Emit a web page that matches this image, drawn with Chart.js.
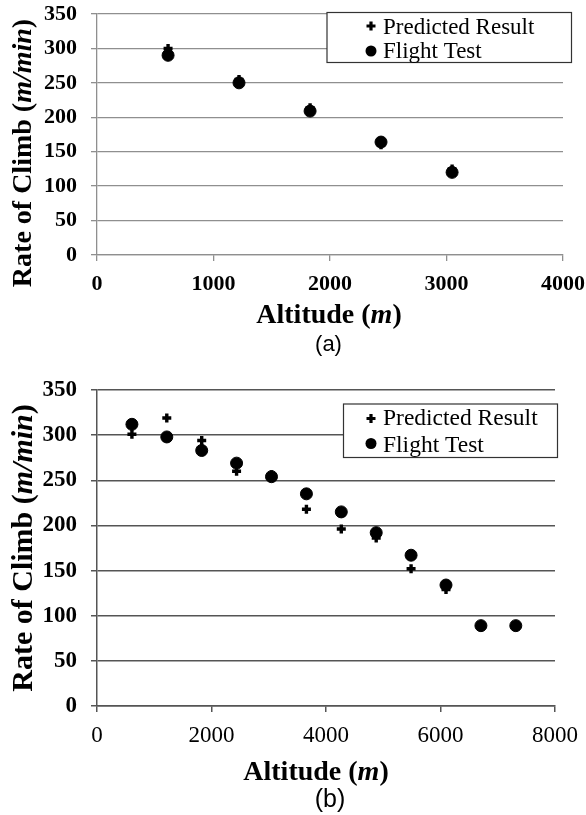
<!DOCTYPE html>
<html>
<head>
<meta charset="utf-8">
<script src="https://cdn.jsdelivr.net/npm/chart.js@4.4.1/dist/chart.umd.min.js"></script>
<style>
  html, body { margin: 0; padding: 0; background: #fff; }
  #wrap { position: relative; width: 586px; height: 815px; overflow: hidden; }
  canvas { position: absolute; left: 0; }
</style>
</head>
<body>
<div id="wrap">
  <canvas id="chart-a" width="586" height="370" style="top:0"></canvas>
  <canvas id="chart-b" width="586" height="445" style="top:370px"></canvas>
</div>
<script>
// (a) - altitude (m) vs rate of climb (m/min)
const altA = [610, 1219, 1829, 2438, 3048];
const predA = [300, 255, 214, 160, 125];
const flightA = [290, 250, 209, 164, 120];

// (b)
const altB = [610, 1219, 1829, 2438, 3048, 3658, 4267, 4877, 5486, 6096, 6706, 7315];
const predB = [301, 319, 294, 260, 256, 218, 196, 186, 152, 129, 88, 88];
const flightB = [312, 298, 283, 269, 254, 235, 215, 192, 167, 134, 89, 89];

const yTicks = [0, 50, 100, 150, 200, 250, 300, 350];
const xTicksA = [0, 1000, 2000, 3000, 4000];
const xTicksB = [0, 2000, 4000, 6000, 8000];

const legendLabels = ['Predicted Result', 'Flight Test'];
const SERIF = '"Liberation Serif", "Times New Roman", serif';
const SANS = '"Liberation Sans", Arial, sans-serif';

Chart.defaults.devicePixelRatio = 1;
Chart.defaults.animation = false;

const pts = (xs, ys) => xs.map((x, i) => ({x, y: ys[i]}));

// draw text made of pieces in different fonts, centred on x
function drawParts(ctx, parts, size, x, y) {
  let total = 0;
  parts.forEach(([t, style]) => {
    ctx.font = `${style} ${size}px ${SERIF}`;
    total += ctx.measureText(t).width;
  });
  let cx = x - total / 2;
  parts.forEach(([t, style]) => {
    ctx.font = `${style} ${size}px ${SERIF}`;
    ctx.fillText(t, cx, y);
    cx += ctx.measureText(t).width;
  });
}

const titlesPlugin = {
  id: 'figTitles',
  afterDraw(chart, args, o) {
    const ctx = chart.ctx;
    ctx.save();
    ctx.fillStyle = '#000';
    ctx.textAlign = 'left';
    ctx.textBaseline = 'alphabetic';
    drawParts(ctx, [['Altitude (', 'bold'], ['m', 'italic bold'], [')', 'bold']], o.xSize, o.xX, o.xY);
    ctx.save();
    ctx.translate(o.yX, o.yY);
    ctx.rotate(-Math.PI / 2);
    drawParts(ctx, [['Rate of Climb (', 'bold'], ['m/min', 'italic bold'], [')', 'bold']], o.ySize, 0, 0);
    ctx.restore();
    ctx.font = `${o.capSize}px ${SANS}`;
    ctx.textAlign = 'center';
    ctx.fillText(o.caption, o.capX, o.capY);
    ctx.restore();
  }
};

const boxLegendPlugin = {
  id: 'boxLegend',
  afterDraw(chart, args, o) {
    const ctx = chart.ctx;
    const [x1, y1, x2, y2] = o.box;
    ctx.save();
    ctx.fillStyle = '#fff';
    ctx.fillRect(x1, y1, x2 - x1, y2 - y1);
    ctx.strokeStyle = '#333';
    ctx.lineWidth = 1.2;
    ctx.strokeRect(x1, y1, x2 - x1, y2 - y1);
    ctx.fillStyle = '#000';
    ctx.strokeStyle = '#000';
    ctx.lineWidth = 3.2;
    Chart.helpers.drawPoint(ctx, {pointStyle: 'cross', radius: 4.5, borderWidth: 3.2}, o.markX, o.rows[0].my);
    ctx.lineWidth = 0;
    Chart.helpers.drawPoint(ctx, {pointStyle: 'circle', radius: 5.5, borderWidth: 0}, o.markX, o.rows[1].my);
    ctx.font = `${o.size}px ${SERIF}`;
    ctx.textAlign = 'left';
    ctx.textBaseline = 'alphabetic';
    ctx.fillText(legendLabels[0], o.textX, o.rows[0].ty);
    ctx.fillText(legendLabels[1], o.textX, o.rows[1].ty);
    ctx.restore();
  }
};

function makeChart(id, cfg) {
  const datasets = [
    {
      label: legendLabels[0], data: pts(cfg.alt, cfg.pred),
      pointStyle: 'cross', pointRadius: 4.5, pointBorderWidth: 3.4,
      borderColor: '#000', backgroundColor: '#000', showLine: false, order: 1
    },
    {
      label: legendLabels[1], data: pts(cfg.alt, cfg.flight),
      pointStyle: 'circle', pointRadius: 6, pointBorderWidth: 1,
      borderColor: '#000', backgroundColor: '#000', showLine: false, order: 2
    }
  ];
  return new Chart(document.getElementById(id), {
    type: 'scatter',
    data: {datasets},
    plugins: [titlesPlugin, boxLegendPlugin],
    options: {
      responsive: false,
      layout: {autoPadding: false, padding: {left: 0, right: cfg.padRight, top: cfg.padTop, bottom: 0}},
      scales: {
        x: {
          type: 'linear', min: 0, max: cfg.xTicks[cfg.xTicks.length - 1],
          afterBuildTicks: s => { s.ticks = cfg.xTicks.map(v => ({value: v})); },
          afterFit: s => { s.height = cfg.xHeight; s.paddingLeft = 0; s.paddingRight = 0; },
          grid: {drawOnChartArea: false, drawTicks: true, tickLength: 6, color: cfg.gridColor, tickColor: cfg.gridColor, lineWidth: cfg.gridWidth},
          border: {color: cfg.gridColor, width: cfg.gridWidth},
          ticks: {color: '#000', padding: 10, maxRotation: 0, callback: v => String(v),
            font: {family: SERIF, size: cfg.tickSize, weight: cfg.xTickWeight}}
        },
        y: {
          type: 'linear', min: 0, max: 350,
          afterBuildTicks: s => { s.ticks = yTicks.map(v => ({value: v})); },
          afterFit: s => { s.width = 97; s.paddingTop = 0; s.paddingBottom = 0; },
          grid: {drawTicks: true, tickLength: 6, color: cfg.gridColor, tickColor: cfg.gridColor, lineWidth: cfg.gridWidth},
          border: {color: cfg.gridColor, width: cfg.gridWidth},
          ticks: {color: '#000', padding: 14, callback: v => String(v),
            font: {family: SERIF, size: cfg.tickSize, weight: 'bold'}}
        }
      },
      plugins: {
        legend: {display: false},
        tooltip: {enabled: false},
        figTitles: cfg.titles,
        boxLegend: cfg.legend
      }
    }
  });
}

makeChart('chart-a', {
  alt: altA, pred: predA, flight: flightA, xTicks: xTicksA,
  padRight: 23, padTop: 14, xHeight: 115,
  gridColor: '#8f8f8f', gridWidth: 1.3, tickSize: 22, xTickWeight: 'bold',
  titles: {xX: 329, xY: 323, xSize: 28, yX: 31, yY: 153, ySize: 28, caption: '(a)', capX: 328.5, capY: 351, capSize: 22},
  legend: {box: [327, 12.5, 571.5, 62.5], markX: 371, textX: 383, size: 23,
    rows: [{my: 26, ty: 33.5}, {my: 51, ty: 57.5}]}
});

makeChart('chart-b', {
  alt: altB, pred: predB, flight: flightB, xTicks: xTicksB,
  padRight: 31, padTop: 20, xHeight: 109,
  gridColor: '#555', gridWidth: 1.5, tickSize: 23, xTickWeight: 'normal',
  titles: {xX: 316, xY: 410, xSize: 28, yX: 32, yY: 178, ySize: 30, caption: '(b)', capX: 330, capY: 436.5, capSize: 25},
  legend: {box: [343.5, 34, 557.5, 87.5], markX: 371, textX: 383, size: 23.5,
    rows: [{my: 48.5, ty: 55}, {my: 73.5, ty: 81.5}]}
});
</script>
</body>
</html>
